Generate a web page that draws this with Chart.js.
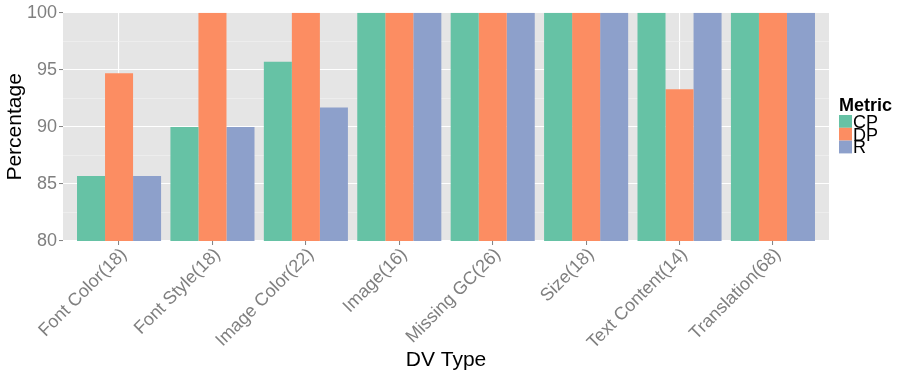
<!DOCTYPE html>
<html lang="en">
<head>
    <meta charset="UTF-8">
    <title>DV Type</title>
    <style>
        html, body {
            margin: 0;
            padding: 0;
            background: #ffffff;
        }
        #wrap {
            width: 913px;
            height: 376px;
        }
    </style>
</head>
<body>
    <div id="wrap"><canvas id="myChart" width="913" height="376"></canvas></div>

    <script src="https://cdn.jsdelivr.net/npm/chart.js"></script>
    <script>
        // values
        var categories = ['Font Color(18)', 'Font Style(18)', 'Image Color(22)', 'Image(16)',
                          'Missing GC(26)', 'Size(18)', 'Text Content(14)', 'Translation(68)'];
        var cpValues = [85.7, 90, 95.7, 100, 100, 100, 100, 100];
        var dpValues = [94.7, 100, 100, 100, 100, 100, 93.3, 100];
        var rValues  = [85.7, 90, 91.7, 100, 100, 100, 100, 100];
        var metricNames = ['CP', 'DP', 'R'];
        var yTicks = [80, 85, 90, 95, 100];

        var FONT = "'Liberation Sans', Arial, Helvetica, sans-serif";
        var colors = ['#66C2A5', '#FC8D62', '#8DA0CB'];

        function toPoints(values) {
            return values.map(function (v, i) { return { x: i + 1, y: v }; });
        }

        var seriesValues = [cpValues, dpValues, rValues];
        var datasets = metricNames.map(function (name, k) {
            return {
                label: name,
                data: toPoints(seriesValues[k]),
                backgroundColor: colors[k],
                borderWidth: 0,
                categoryPercentage: 0.9,
                barPercentage: 1.0
            };
        });

        // grey panel like ggplot
        var panelBg = {
            id: 'panelBg',
            beforeDraw: function (chart) {
                var a = chart.chartArea, ctx = chart.ctx;
                ctx.save();
                ctx.fillStyle = '#E5E5E5';
                ctx.fillRect(a.left, a.top, a.right - a.left, a.bottom - a.top);
                ctx.restore();
            }
        };

        // ggplot style legend on the right
        var sideLegend = {
            id: 'sideLegend',
            afterDraw: function (chart) {
                var ctx = chart.ctx;
                var x = chart.chartArea.right + 10;
                var y0 = 115;
                var key = 12.8;
                ctx.save();
                ctx.fillStyle = '#000000';
                ctx.textBaseline = 'alphabetic';
                ctx.textAlign = 'left';
                ctx.font = 'bold 18px ' + FONT;
                ctx.fillText('Metric', x, 111);
                ctx.font = '18px ' + FONT;
                chart.data.datasets.forEach(function (ds, i) {
                    ctx.fillStyle = ds.backgroundColor;
                    ctx.fillRect(x, y0 + i * key, 13, key);
                    ctx.fillStyle = '#000000';
                    ctx.fillText(ds.label, x + 14, y0 + (i + 1) * key);
                });
                ctx.restore();
            }
        };

        new Chart(document.getElementById('myChart'), {
            type: 'bar',
            data: { datasets: datasets },
            plugins: [panelBg, sideLegend],
            options: {
                responsive: false,
                animation: false,
                layout: { padding: { top: 11, right: 84, left: 0, bottom: 0 } },
                plugins: {
                    legend: { display: false },
                    tooltip: { enabled: false }
                },
                scales: {
                    x: {
                        type: 'linear',
                        min: 0.4,
                        max: categories.length + 0.6,
                        offset: false,
                        afterBuildTicks: function (scale) {
                            scale.ticks = categories.map(function (c, i) { return { value: i + 1 }; });
                        },
                        afterFit: function (scale) { scale.height = 135; },
                        border: { display: false },
                        grid: {
                            offset: false,
                            color: '#FFFFFF',
                            lineWidth: 1.1,
                            tickColor: '#7F7F7F',
                            tickLength: 4,
                            tickWidth: 1
                        },
                        ticks: {
                            autoSkip: false,
                            minRotation: 45,
                            maxRotation: 45,
                            padding: -1,
                            labelOffset: 5,
                            color: '#7F7F7F',
                            font: { family: FONT, size: 18 },
                            callback: function (v) { return categories[Math.round(v) - 1]; }
                        },
                        title: {
                            display: true,
                            text: 'DV Type',
                            color: '#000000',
                            font: { family: FONT, size: 21 },
                            padding: { top: 0, bottom: 3 }
                        }
                    },
                    y: {
                        min: yTicks[0],
                        max: yTicks[yTicks.length - 1],
                        afterFit: function (scale) { scale.width = 63; },
                        border: { display: false },
                        grid: {
                            color: function (c) { return c.tick.value % 5 === 0 ? '#FFFFFF' : '#F2F2F2'; },
                            lineWidth: function (c) { return c.tick.value % 5 === 0 ? 1.1 : 0.6; },
                            tickColor: function (c) { return c.tick.value % 5 === 0 ? '#7F7F7F' : 'rgba(0,0,0,0)'; },
                            tickLength: 4,
                            tickWidth: 1
                        },
                        ticks: {
                            stepSize: 2.5,
                            padding: 2,
                            color: '#7F7F7F',
                            font: { family: FONT, size: 18 },
                            callback: function (v) { return yTicks.indexOf(v) >= 0 ? String(v) : ''; }
                        },
                        title: {
                            display: true,
                            text: 'Percentage',
                            color: '#000000',
                            font: { family: FONT, size: 21 },
                            padding: { top: 3, bottom: 0 }
                        }
                    }
                }
            }
        });
    </script>
</body>
</html>
